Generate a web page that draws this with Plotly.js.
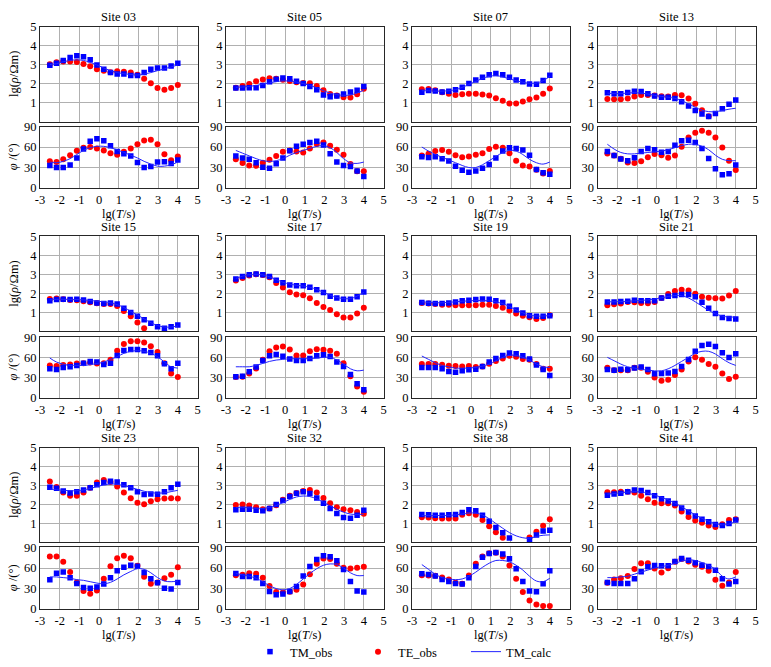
<!DOCTYPE html>
<html><head><meta charset="utf-8">
<script src="https://cdn.plot.ly/plotly-3.0.1.min.js"></script>
<style>html,body{margin:0;padding:0;background:#fff}#chart{width:771px;height:667px}</style>
</head><body><div id="chart"></div>
<script>
// ---------- data ----------
const lgT = [-2.5,-2.16,-1.82,-1.47,-1.13,-0.79,-0.45,-0.11,0.24,0.58,0.92,1.26,1.61,1.95,2.29,2.63,2.97,3.32,3.66,4.0];
const xTickVals = [-3,-2,-1,0,1,2,3,4,5];
const xTickText = ['-3','-2','-1','0','1','2','3','4','5'];
const rhoTickVals = [1,2,3,4,5];
const phiTickVals = [0,30,60,90];
const siteNames = ['Site 03','Site 05','Site 07','Site 13','Site 15','Site 17','Site 19','Site 21','Site 23','Site 32','Site 38','Site 41'];

const s03_rhoTM = [2.96,3.07,3.21,3.37,3.47,3.42,3.25,2.98,2.75,2.58,2.5,2.5,2.42,2.42,2.58,2.75,2.82,2.82,2.93,3.07];
const s03_rhoTE = [3.02,3.12,3.17,3.17,3.14,3.03,2.91,2.75,2.67,2.6,2.65,2.62,2.58,2.47,2.26,2.02,1.77,1.67,1.77,1.93];
const s03_rhoCalc = [3.0,3.05,3.15,3.22,3.25,3.22,3.12,2.98,2.82,2.68,2.58,2.52,2.48,2.45,2.5,2.58,2.68,2.78,2.88,2.98];
const s03_phiTM = [33,30,30,33.5,44,57,68.5,72,69,62,53.5,50,47,37.5,30,31.5,38,38.5,36,41];
const s03_phiTE = [39,38,42,48,54.5,59,60,58,55,51,48.5,53,58,64,69.5,70.5,64,49.5,40.5,46];
const s03_phiCalc = [38,37,39,43,49,55,59,61,61,59,56,52,48,44,39,35,32,32,34,38];

const s05_rhoTM = [1.77,1.77,1.78,1.78,1.9,2.1,2.23,2.3,2.26,2.12,2.0,1.84,1.67,1.4,1.3,1.35,1.45,1.56,1.65,1.84];
const s05_rhoTE = [1.78,1.87,1.98,2.12,2.22,2.28,2.26,2.2,2.14,2.07,2.03,2.02,1.87,1.65,1.45,1.37,1.28,1.26,1.44,1.73];
const s05_rhoCalc = [1.8,1.82,1.85,1.9,1.97,2.04,2.1,2.14,2.13,2.08,2.0,1.9,1.78,1.63,1.5,1.42,1.38,1.4,1.5,1.65];
const s05_phiTM = [47,44,42,37,30.5,29,35.5,44,54.5,61,64,66.5,68.5,63,50,38,33,31.5,25,17];
const s05_phiTE = [42,36.5,33,32.5,37,41.5,47,53,55,53.5,52,58,64.5,66.5,62,56,48.5,35,24.5,24.5];
const s05_phiCalc = [55,51,47,43,40,39,40,43,48,52,55,58,61,62,59,52,43,37,36,38];

const s07_rhoTM = [1.54,1.63,1.61,1.56,1.6,1.67,1.8,2.0,2.19,2.33,2.46,2.53,2.47,2.33,2.19,2.09,1.98,1.96,2.16,2.44];
const s07_rhoTE = [1.7,1.72,1.65,1.54,1.46,1.4,1.44,1.46,1.46,1.42,1.37,1.23,1.09,0.95,0.95,1.05,1.18,1.26,1.47,1.74];
const s07_rhoCalc = [1.62,1.62,1.6,1.6,1.62,1.68,1.8,1.95,2.12,2.27,2.38,2.42,2.35,2.25,2.15,2.07,2.02,2.03,2.15,2.38];
const s07_phiTM = [45.7,44.7,45.7,43,39.5,32,26,23,25,29,34.5,44,54,59,58,55.5,48,27,22.5,20];
const s07_phiTE = [47.7,50,54,55.5,53,48,45,46,48.5,51,57,60.3,59,51,40,33,31.6,26.7,21.4,24.8];
const s07_phiCalc = [60,54,49,45,41,37,33,30,30,34,40,46,52,55,54,49,42,37,35,38];

const s13_rhoTM = [1.51,1.46,1.47,1.53,1.6,1.58,1.46,1.35,1.28,1.28,1.21,1.04,0.82,0.58,0.39,0.26,0.42,0.67,0.91,1.14];
const s13_rhoTE = [1.19,1.18,1.18,1.21,1.32,1.4,1.4,1.37,1.33,1.32,1.4,1.39,1.21,0.93,0.6,0.28,null,null,null,null];
const s13_rhoCalc = [1.5,1.47,1.47,1.5,1.52,1.5,1.45,1.38,1.32,1.28,1.22,1.1,0.93,0.75,0.6,0.52,0.52,0.58,0.65,0.7];
const s13_phiTM = [53.5,47.7,42.3,40,44.3,53.5,58,56,52.5,53.5,62.7,69,70,66.6,58,43.3,28.2,19.5,21,33.6];
const s13_phiTE = [50.6,47.7,42.8,37.5,36.5,39,45.2,49.6,48,44.3,47.7,60.3,74,81,83.7,81,74,59.3,40,26.3];
const s13_phiCalc = [64,57,52,50,50,51,52,53,54,56,59,62,64,64,61,56,48,42,40,40];

const s15_rhoTM = [1.6,1.67,1.68,1.67,1.68,1.65,1.56,1.49,1.46,1.49,1.44,1.21,0.98,0.79,0.6,0.42,0.23,0.16,0.23,0.33];
const s15_rhoTE = [1.7,1.72,1.68,1.65,1.63,1.58,1.53,1.47,1.44,1.44,1.33,1.07,0.79,0.46,0.16,null,null,null,null,null];
const s15_rhoCalc = [1.65,1.68,1.68,1.68,1.67,1.65,1.62,1.58,1.55,1.5,1.4,1.25,1.05,0.85,0.65,0.45,0.3,0.22,0.22,0.28];
const s15_phiTM = [43,42,45,46,48,51.4,54,53,49.5,51.4,62.8,70.2,71.7,71.7,69.7,67.3,62.3,50.4,43,51.4];
const s15_phiTE = [48,47,48.5,49.5,51,51.4,52.4,51,51.4,56.4,69.7,80,84,84,82,76.6,67.8,51.4,36,30.7];
const s15_phiCalc = [59,53,50,48,48,48,49,51,53,57,61,66,69,70,69,66,61,53,46,44];

const s17_rhoTM = [2.75,2.88,2.98,3.02,2.98,2.88,2.68,2.56,2.44,2.4,2.39,2.32,2.18,2.04,1.84,1.75,1.68,1.68,1.82,2.07];
const s17_rhoTE = [2.67,2.81,2.93,3.0,2.96,2.84,2.54,2.3,2.05,1.93,1.89,1.74,1.49,1.28,1.12,0.89,0.72,0.72,0.93,1.23];
const s17_rhoCalc = [2.78,2.9,2.98,3.0,2.97,2.87,2.72,2.58,2.48,2.42,2.38,2.32,2.2,2.05,1.9,1.78,1.72,1.72,1.85,2.05];
const s17_phiTM = [31,32,38.5,45.5,55.4,62.3,64.3,61.8,57.4,55.4,55.4,58.4,62.3,63.8,61.3,53,46.5,34.6,20.8,11.9];
const s17_phiTE = [30.7,31,36,43.5,56.4,69.2,74.7,76.2,71.7,62.8,62.8,69.2,72.2,71.2,69.7,65.3,51.4,32,16.8,8.9];
const s17_phiCalc = [46,46,46,48,51,54,56,57,58,58,58,58,59,60,60,56,50,43,40,41];

const s19_rhoTM = [1.51,1.47,1.46,1.46,1.49,1.54,1.6,1.63,1.67,1.7,1.68,1.6,1.51,1.32,1.12,0.96,0.82,0.79,0.79,0.81];
const s19_rhoTE = [1.49,1.46,1.44,1.4,1.4,1.37,1.37,1.37,1.37,1.39,1.39,1.33,1.23,1.09,0.93,0.82,0.74,0.65,0.7,0.84];
const s19_rhoCalc = [1.55,1.52,1.5,1.5,1.52,1.55,1.58,1.6,1.62,1.62,1.6,1.55,1.45,1.3,1.12,0.97,0.85,0.8,0.8,0.82];
const s19_phiTM = [45,45,45,43,39,38,40,41.5,42.5,46.5,53,58.4,62.8,66.3,65.3,62.3,57.4,48.5,42,33];
const s19_phiTE = [50,50,50,49,47.5,47,46.5,47,45.5,46.5,50.4,54.4,58.4,62.3,60.8,57.4,56.4,50,43,43];
const s19_phiCalc = [62,57,52,48,46,44,44,44,45,47,50,55,60,63,63,60,56,50,46,45];

const s21_rhoTM = [1.54,1.54,1.56,1.58,1.63,1.6,1.6,1.61,1.75,1.84,1.88,1.93,1.93,1.81,1.53,1.21,0.93,0.72,0.67,0.65];
const s21_rhoTE = [1.37,1.42,1.46,1.54,1.53,1.49,1.47,1.54,1.75,1.96,2.12,2.18,2.14,1.98,1.82,1.77,1.74,1.72,1.88,2.12];
const s21_rhoCalc = [1.55,1.55,1.56,1.58,1.6,1.62,1.65,1.7,1.76,1.83,1.88,1.87,1.75,1.55,1.32,1.1,0.92,0.8,0.75,0.75];
const s21_phiTM = [42,41,42.5,41.5,44,45.5,42,35.6,36,36.6,39,46.5,57,69.2,77.6,79.6,76.2,66.8,59.8,65.3];
const s21_phiTE = [44.5,41,41,41,44.5,44.5,38.6,30.2,25.2,26.7,33.6,42,54,60.3,56.4,50,46,36,27.7,31];
const s21_phiCalc = [60,55,50,46,44,42,41,40,40,43,48,54,60,66,69,69,65,58,52,48];

const s23_rhoTM = [2.91,2.86,2.72,2.61,2.67,2.77,2.88,3.04,3.16,3.23,3.19,3.04,2.89,2.68,2.53,2.56,2.54,2.67,2.88,3.07];
const s23_rhoTE = [3.21,2.93,2.63,2.46,2.47,2.63,2.88,3.16,3.3,3.19,2.95,2.63,2.33,2.1,2.02,2.18,2.28,2.32,2.33,2.32];
const s23_rhoCalc = [2.82,2.78,2.75,2.73,2.73,2.77,2.85,2.95,3.03,3.08,3.07,3.0,2.9,2.8,2.7,2.63,2.6,2.62,2.68,2.75];
const s23_phiTM = [42.8,52.5,54,45.7,37.5,31.6,30.6,32.1,36.5,45.7,56,61.3,64.2,62.7,53.5,44.3,38.4,30.6,29.2,39];
const s23_phiTE = [76.8,76.8,69,54,39,26.3,22.4,27.2,44.3,62.7,74.4,77.8,74.4,63.2,47.2,37,39,45.2,50,61.3];
const s23_phiCalc = [47,47,46,45,43,42,40,38,37,39,44,50,55,59,58,53,46,41,40,41];

const s32_rhoTM = [1.72,1.75,1.75,1.7,1.67,1.79,2.0,2.21,2.42,2.6,2.68,2.58,2.35,2.07,1.79,1.53,1.32,1.28,1.44,1.7];
const s32_rhoTE = [1.98,2.0,1.95,1.86,1.75,1.79,1.96,2.25,2.47,2.61,2.72,2.77,2.63,2.35,2.07,1.86,1.75,1.7,1.61,1.51];
const s32_rhoCalc = [1.85,1.85,1.83,1.8,1.8,1.85,1.95,2.1,2.27,2.4,2.45,2.42,2.3,2.12,1.93,1.75,1.6,1.5,1.47,1.5];
const s32_phiTM = [52,47.7,47.7,45.7,37.5,25.8,20.9,21.9,25.8,33,48.2,62.3,72.5,77.8,76.4,70.5,57.9,40.4,26.3,24.8];
const s32_phiTE = [49.6,50,52.5,51.6,45.7,33.6,24.8,24.3,25.3,28.2,36,51,66.1,74,73,66.1,60.3,59.3,60.3,61.8];
const s32_phiCalc = [52,50,48,45,40,34,30,28,30,36,44,52,59,64,66,65,60,53,49,49];

const s38_rhoTM = [1.47,1.46,1.44,1.44,1.46,1.47,1.58,1.72,1.67,1.44,1.12,0.79,0.51,0.23,null,null,0.14,0.39,0.61,0.65];
const s38_rhoTE = [1.33,1.32,1.28,1.26,1.26,1.26,1.46,1.54,1.46,1.19,0.86,0.54,0.25,null,null,null,0.26,0.56,0.88,1.23];
const s38_rhoCalc = [1.42,1.42,1.42,1.42,1.43,1.45,1.5,1.55,1.55,1.45,1.25,1.0,0.75,0.52,0.35,0.25,0.22,0.32,0.38,0.4];
const s38_phiTM = [51.6,50.6,48.2,43.3,40.4,37.5,36.5,45.7,62.3,75.9,81.2,82.7,80.3,73.4,58.9,40.4,26.3,25.3,37,56];
const s38_phiTE = [49.6,49.1,48.6,46.2,43.3,38.4,37,49.1,66.1,76.8,81.7,82.2,76.8,63.7,44.3,24.8,12.6,6.8,4.4,4.4];
const s38_phiCalc = [65,58,51,46,44,43,44,48,54,61,67,71,71,69,64,57,48,41,40,45];

const s41_rhoTM = [2.49,2.56,2.6,2.67,2.77,2.74,2.63,2.47,2.3,2.19,2.05,1.82,1.61,1.4,1.23,1.09,0.95,0.89,1.0,1.19];
const s41_rhoTE = [2.65,2.65,2.67,2.67,2.63,2.47,2.28,2.09,2.07,2.07,1.95,1.63,1.35,1.16,1.04,0.89,0.82,0.96,1.18,1.23];
const s41_rhoCalc = [2.55,2.58,2.62,2.66,2.68,2.67,2.6,2.5,2.38,2.25,2.08,1.88,1.67,1.45,1.27,1.12,1.0,0.93,0.97,1.12];
const s41_phiTM = [38.9,37.5,37.5,37.5,44.3,54.5,61.8,63.7,63.2,63.2,69.6,73.9,71.5,67.6,64.2,62.3,56.9,44.3,36.5,40.4];
const s41_phiTE = [38.4,43.3,45.2,48.2,58.4,67.1,67.1,59.3,53.5,59.8,69.1,73,69.6,64.7,61.8,56,42.8,34,38.9,54];
const s41_phiCalc = [46,46,47,48,51,54,57,60,62,64,67,70,72,71,68,64,58,48,44,47];

const rhoTM = [s03_rhoTM,s05_rhoTM,s07_rhoTM,s13_rhoTM,s15_rhoTM,s17_rhoTM,s19_rhoTM,s21_rhoTM,s23_rhoTM,s32_rhoTM,s38_rhoTM,s41_rhoTM];
const rhoTE = [s03_rhoTE,s05_rhoTE,s07_rhoTE,s13_rhoTE,s15_rhoTE,s17_rhoTE,s19_rhoTE,s21_rhoTE,s23_rhoTE,s32_rhoTE,s38_rhoTE,s41_rhoTE];
const rhoCalc = [s03_rhoCalc,s05_rhoCalc,s07_rhoCalc,s13_rhoCalc,s15_rhoCalc,s17_rhoCalc,s19_rhoCalc,s21_rhoCalc,s23_rhoCalc,s32_rhoCalc,s38_rhoCalc,s41_rhoCalc];
const phiTM = [s03_phiTM,s05_phiTM,s07_phiTM,s13_phiTM,s15_phiTM,s17_phiTM,s19_phiTM,s21_phiTM,s23_phiTM,s32_phiTM,s38_phiTM,s41_phiTM];
const phiTE = [s03_phiTE,s05_phiTE,s07_phiTE,s13_phiTE,s15_phiTE,s17_phiTE,s19_phiTE,s21_phiTE,s23_phiTE,s32_phiTE,s38_phiTE,s41_phiTE];
const phiCalc = [s03_phiCalc,s05_phiCalc,s07_phiCalc,s13_phiCalc,s15_phiCalc,s17_phiCalc,s19_phiCalc,s21_phiCalc,s23_phiCalc,s32_phiCalc,s38_phiCalc,s41_phiCalc];

// ---------- layout ----------
const W = 771, H = 667;
const colPx = [[40,197.5],[226,383.5],[412,569.5],[597.5,755.5]];
const rowPx = [
  {rho:[26.7,121.7], phi:[126.7,188.3], title:17},
  {rho:[236.7,331.7], phi:[337.7,398.3], title:227},
  {rho:[448.3,543.3], phi:[548.3,610], title:439}
];
const fx = p => p / W;
const fy = p => 1 - p / H;
const FONT = '"Liberation Serif", serif';
const font12 = {family: FONT, size: 12.5, color: '#000'};
const BLUE = '#0000ff', RED = '#ff0000', LINE = 'rgb(35,35,255)';

const traces = [];
const layout = {
  width: W, height: H,
  margin: {l:0, r:0, t:0, b:0},
  paper_bgcolor: '#ffffff', plot_bgcolor: '#ffffff',
  font: font12,
  showlegend: true,
  legend: {orientation:'h', x: fx(250), y: fy(653), xanchor:'left', yanchor:'middle',
           font: font12, entrywidth: 63, entrywidthmode:'pixels', bgcolor:'rgba(0,0,0,0)', traceorder:'normal'},
  annotations: []
};

function axisBase() {
  return {showline:true, mirror:true, linecolor:'#262626', linewidth:1,
          showgrid:true, gridcolor:'#b0b0b0', gridwidth:1, zeroline:false,
          ticks:'', tickfont: font12, fixedrange:true, automargin:false};
}

siteNames.forEach((name, k) => {
  const r = Math.floor(k / 4), c = k % 4;
  const ia = 2*k + 1, ib = 2*k + 2;
  const xa = ia === 1 ? 'x' : 'x' + ia, ya = ia === 1 ? 'y' : 'y' + ia;
  const xb = 'x' + ib, yb = 'y' + ib;
  const first = k === 0;
  const dom = [fx(colPx[c][0]), fx(colPx[c][1])];

  // rho panel
  traces.push({type:'scatter', mode:'markers', x:lgT, y:rhoTE[k], xaxis:xa, yaxis:ya,
    marker:{symbol:'circle', size:6, color:RED}, name:'TE_obs', legendgroup:'TE', showlegend:first, legendrank:2, cliponaxis:true});
  traces.push({type:'scatter', mode:'markers', x:lgT, y:rhoTM[k], xaxis:xa, yaxis:ya,
    marker:{symbol:'square', size:5.5, color:BLUE}, name:'TM_obs', legendgroup:'TM', showlegend:first, legendrank:1, cliponaxis:true});
  traces.push({type:'scatter', mode:'lines', x:lgT, y:rhoCalc[k], xaxis:xa, yaxis:ya,
    line:{color:LINE, width:1, shape:'spline'}, name:'TM_calc', legendgroup:'calc', showlegend:first, legendrank:3});
  // phase panel
  traces.push({type:'scatter', mode:'markers', x:lgT, y:phiTE[k], xaxis:xb, yaxis:yb,
    marker:{symbol:'circle', size:6, color:RED}, name:'TE_obs', legendgroup:'TE', showlegend:false, cliponaxis:true});
  traces.push({type:'scatter', mode:'markers', x:lgT, y:phiTM[k], xaxis:xb, yaxis:yb,
    marker:{symbol:'square', size:5.5, color:BLUE}, name:'TM_obs', legendgroup:'TM', showlegend:false, cliponaxis:true});
  traces.push({type:'scatter', mode:'lines', x:lgT, y:phiCalc[k], xaxis:xb, yaxis:yb,
    line:{color:LINE, width:1, shape:'spline'}, name:'TM_calc', legendgroup:'calc', showlegend:false});

  const kxa = ia === 1 ? 'xaxis' : 'xaxis' + ia, kya = ia === 1 ? 'yaxis' : 'yaxis' + ia;
  layout[kxa] = Object.assign(axisBase(), {domain:dom, anchor:ya, range:[-3,5], tickvals:xTickVals, ticktext:xTickText, showticklabels:false});
  layout[kya] = Object.assign(axisBase(), {domain:[fy(rowPx[r].rho[1]), fy(rowPx[r].rho[0])], anchor:xa, range:[0,5], tickvals:rhoTickVals});
  layout['xaxis'+ib] = Object.assign(axisBase(), {domain:dom, anchor:yb, range:[-3,5], tickvals:xTickVals, ticktext:xTickText,
    showticklabels:true, title:{text:'lg(<i>T</i>/s)', font:font12, standoff:2}});
  layout['yaxis'+ib] = Object.assign(axisBase(), {domain:[fy(rowPx[r].phi[1]), fy(rowPx[r].phi[0])], anchor:xb, range:[0,90], tickvals:phiTickVals});

  layout.annotations.push({text:name, xref:'paper', yref:'paper', x:(dom[0]+dom[1])/2, y:fy(rowPx[r].title),
    xanchor:'center', yanchor:'middle', showarrow:false, font:font12});
  if (c === 0) {
    layout.annotations.push({text:'lg(<i>ρ</i>/Ωm)', xref:'paper', yref:'paper', x:fx(14), y:fy((rowPx[r].rho[0]+rowPx[r].rho[1])/2),
      xanchor:'center', yanchor:'middle', textangle:-90, showarrow:false, font:font12});
    layout.annotations.push({text:'<i>φ</i> /(°)', xref:'paper', yref:'paper', x:fx(13), y:fy((rowPx[r].phi[0]+rowPx[r].phi[1])/2),
      xanchor:'center', yanchor:'middle', textangle:-90, showarrow:false, font:font12});
  }
});

Plotly.newPlot('chart', traces, layout, {staticPlot:true, displayModeBar:false});
</script></body></html>
